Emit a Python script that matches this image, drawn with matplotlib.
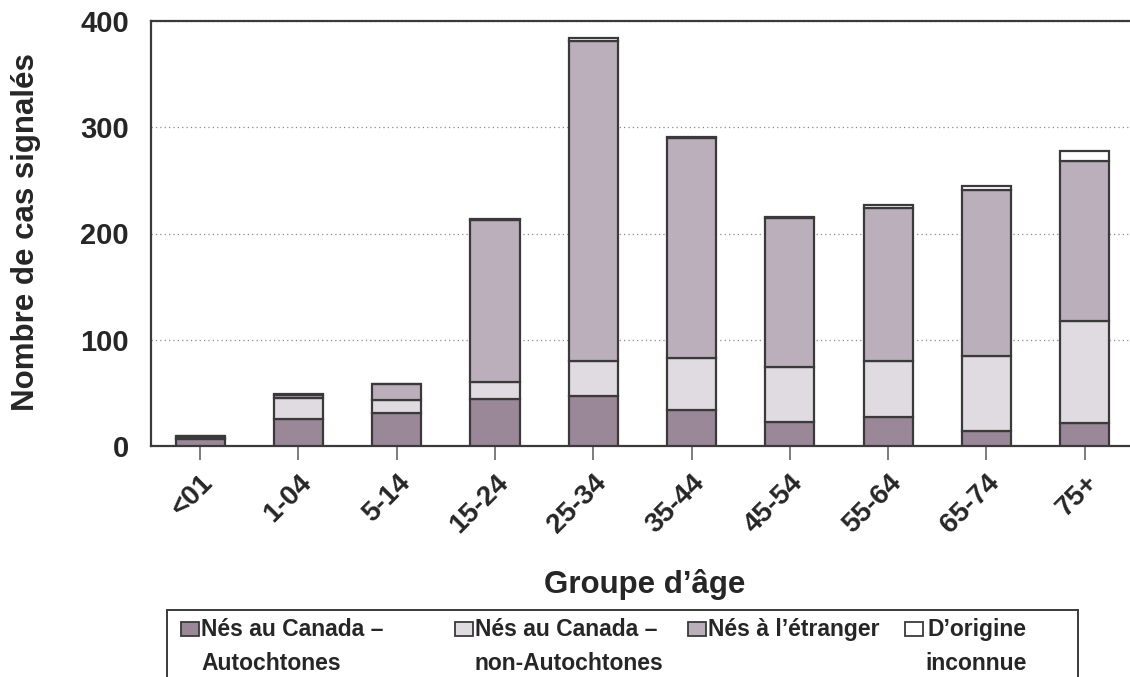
import matplotlib
matplotlib.use("Agg")
import matplotlib.pyplot as plt
import numpy as np
from matplotlib.patches import Rectangle

plt.rcParams["font.family"] = ["Liberation Sans", "DejaVu Sans"]
plt.rcParams["font.weight"] = "bold"

age_groups = ["<01", "1-04", "5-14", "15-24", "25-34", "35-44",
              "45-54", "55-64", "65-74", "75+"]
autochtones = [7, 25, 31, 44, 47, 34, 23, 27, 14, 22]
non_autochtones = [1, 20, 12, 16, 33, 49, 51, 53, 71, 96]
etranger = [1, 3, 15, 153, 301, 207, 141, 144, 156, 150]
inconnue = [0, 1, 0, 1, 3, 1, 1, 3, 4, 10]

series_labels = ["Nés au Canada –\nAutochtones",
                 "Nés au Canada –\nnon-Autochtones",
                 "Nés à l’étranger",
                 "D’origine\ninconnue"]
colors = ["#9a8898", "#dfdbe0", "#bbafbc", "#ffffff"]
TXT = "#262626"
EDGE = "#3a3a3a"

W, H = 1130, 677
fig = plt.figure(figsize=(W / 100, H / 100), dpi=100)
ax = fig.add_axes([151 / W, 1 - 446 / H, 1 - 151 / W, 425 / H])

x = np.arange(len(age_groups))
bottom = np.zeros(len(age_groups))
for vals, col in zip([autochtones, non_autochtones, etranger, inconnue], colors):
    vals = np.array(vals, dtype=float)
    ax.bar(x, vals, 0.5, bottom=bottom, color=col, edgecolor=EDGE,
           linewidth=1.6, zorder=3)
    bottom += vals

ax.set_xlim(-0.5, 9.46)
ax.set_ylim(0, 400)
ax.set_yticks([0, 100, 200, 300, 400])
ax.yaxis.grid(True, linestyle=(0, (1, 2.5)), color="#8a8a8a", linewidth=0.9, zorder=0)
ax.set_axisbelow(True)

ax.spines["right"].set_visible(False)
for s in ["left", "top", "bottom"]:
    ax.spines[s].set_color("#3a3a3a")
    ax.spines[s].set_linewidth(1.6)

ax.tick_params(axis="y", length=0, pad=16, labelsize=21, labelcolor=TXT)
ax.tick_params(axis="x", length=10, width=1.2, color="#666666", pad=7,
               labelsize=20, labelcolor=TXT)
ax.set_xticks(x)
ax.set_xticklabels(age_groups, rotation=45, ha="right", rotation_mode="anchor",
                   fontweight="bold")
for lab in ax.get_yticklabels():
    lab.set_fontweight("bold")

fig.text(26 / W, 1 - 232 / H, "Nombre de cas signalés", rotation=90,
         fontsize=22.5, fontweight="bold", color=TXT, ha="center", va="center")
fig.text(645 / W, 1 - 584 / H, "Groupe d’âge", fontsize=22.5, fontweight="bold",
         color=TXT, ha="center", va="center")

# legend drawn by hand: the frame runs past the bottom of the image
fig.patches.append(Rectangle((167 / W, -0.05), (1078 - 167) / W, 0.05 + 1 - 610 / H,
                             transform=fig.transFigure, facecolor="white",
                             edgecolor="#3a3a3a", linewidth=1.4))
handle_x = [181, 455, 688, 905]
line1_y = 1 - 629 / H
for hx, col, lab in zip(handle_x, colors, series_labels):
    fig.patches.append(Rectangle((hx / W, line1_y - 7 / H), 18 / W, 14 / H,
                                 transform=fig.transFigure, facecolor=col,
                                 edgecolor=EDGE, linewidth=1.3))
    ma = "right" if lab.startswith("D’") else "left"
    fig.text((hx + 20) / W, 1 - 618 / H, lab, fontsize=16.5, fontweight="bold",
             color=TXT, ha="left", va="top", linespacing=1.6, multialignment=ma)

fig.savefig("out.png", dpi=100)
